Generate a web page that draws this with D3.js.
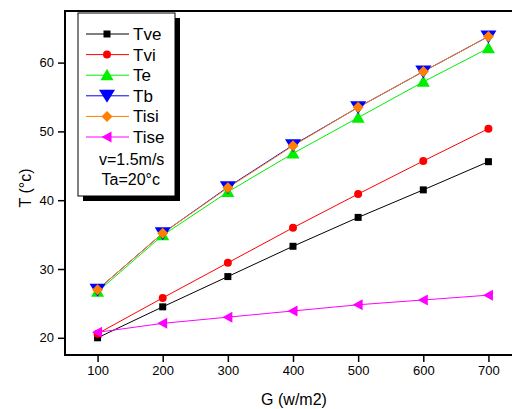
<!DOCTYPE html>
<html>
<head>
<meta charset="utf-8">
<script src="https://cdn.jsdelivr.net/npm/d3@7"></script>
<style>
  html, body { margin: 0; padding: 0; background: #fff; }
  svg { display: block; font-family: "Liberation Sans", Arial, sans-serif; }
</style>
</head>
<body>
<svg id="chart" width="512" height="409"></svg>
<script>
// Irradiance levels (x) and temperatures of each layer (°C)
const G = [100, 200, 300, 400, 500, 600, 700];
const Tve  = [20.0, 24.5, 28.9, 33.3, 37.5, 41.5, 45.6];
const Tvi  = [20.6, 25.8, 30.9, 36.0, 40.9, 45.7, 50.4];
const Te   = [26.7, 34.9, 41.2, 46.8, 52.0, 57.2, 62.1];
const Tb   = [27.0, 35.2, 41.9, 48.0, 53.5, 58.7, 63.8];
const Tisi = [27.0, 35.2, 41.8, 47.9, 53.5, 58.7, 63.8];
const Tise = [20.8, 22.1, 23.0, 23.9, 24.8, 25.5, 26.2];
const xTicks = [100, 200, 300, 400, 500, 600, 700];
const yTicks = [20, 30, 40, 50, 60];
const notes = ["v=1.5m/s", "Ta=20°c"];

const series = [
  { name: "Tve",  values: Tve,  color: "#000000", symbol: "square" },
  { name: "Tvi",  values: Tvi,  color: "#ff0000", symbol: "circle" },
  { name: "Te",   values: Te,   color: "#00ee00", symbol: "triUp" },
  { name: "Tb",   values: Tb,   color: "#0000ff", symbol: "triDown" },
  { name: "Tisi", values: Tisi, color: "#ff8000", symbol: "diamond" },
  { name: "Tise", values: Tise, color: "#ff00ff", symbol: "triLeft" }
];

const svg = d3.select("#chart");
const mLeft = 65, mRight = 521, mTop = 11, mBottom = 355;

const x = d3.scaleLinear().domain([50, 750]).range([mLeft, mRight]);
const y = d3.scaleLinear().domain([17.5, 67.5]).range([mBottom, mTop]);

// marker shapes, centred on 0,0
function markerPath(sym) {
  switch (sym) {
    case "square":  return "M-3.5,-3.5H3.5V3.5H-3.5Z";
    case "circle":  return d3.symbol(d3.symbolCircle, 50)();
    case "triUp":   return "M0,-6.5L6.5,5L-6.5,5Z";
    case "triDown": return "M0,7L-8,-6L8,-6Z";
    case "diamond": return "M0,-5.5L5.5,0L0,5.5L-5.5,0Z";
    case "triLeft": return "M-5.5,0L4.5,-5.5L4.5,5.5Z";
  }
}

// axes
const xAxis = d3.axisBottom(x).tickValues(xTicks).tickSize(7).tickPadding(4);
const yAxis = d3.axisLeft(y).tickValues(yTicks).tickSize(7).tickPadding(4);

const gx = svg.append("g").attr("transform", `translate(0,${mBottom})`).call(xAxis);
const gy = svg.append("g").attr("transform", `translate(${mLeft},0)`).call(yAxis);
[gx, gy].forEach(g => {
  g.select(".domain").remove();
  g.selectAll(".tick line").attr("stroke", "#000").attr("stroke-width", 1.5);
  g.selectAll(".tick text").attr("fill", "#000").style("font-size", "13px")
    .style("font-family", "Liberation Sans, Arial, sans-serif");
});

// frame
svg.append("path")
  .attr("d", `M${mRight},${mTop}H${mLeft}V${mBottom}H${mRight}`)
  .attr("fill", "none").attr("stroke", "#000").attr("stroke-width", 2);

// axis titles
svg.append("text").attr("x", 294).attr("y", 405)
  .attr("text-anchor", "middle").style("font-size", "16px").text("G (w/m2)");
svg.append("text")
  .attr("transform", `translate(31,${188}) rotate(-90)`)
  .attr("text-anchor", "middle").style("font-size", "16px").text("T (°c)");

// series lines
const line = d3.line().x((d, i) => x(G[i])).y(d => y(d));
const plot = svg.append("g");
series.forEach(s => {
  plot.append("path").datum(s.values).attr("d", line)
    .attr("fill", "none").attr("stroke", s.color).attr("stroke-width", 1);
});
// series markers
series.forEach(s => {
  plot.append("g").selectAll("path").data(s.values).join("path")
    .attr("transform", (d, i) => `translate(${x(G[i])},${y(d)})`)
    .attr("d", markerPath(s.symbol)).attr("fill", s.color);
});

// legend with drop shadow
const lg = svg.append("g");
const bx = 78, by = 13, bw = 97, bh = 183;
lg.append("rect").attr("x", bx + 5).attr("y", by + 5).attr("width", bw).attr("height", bh).attr("fill", "#000");
lg.append("rect").attr("x", bx).attr("y", by).attr("width", bw).attr("height", bh)
  .attr("fill", "#fff").attr("stroke", "#000").attr("stroke-width", 1);
series.forEach((s, i) => {
  const ry = 34 + i * 20.6;
  lg.append("line").attr("x1", 86).attr("x2", 129).attr("y1", ry).attr("y2", ry)
    .attr("stroke", s.color).attr("stroke-width", 1);
  lg.append("path").attr("transform", `translate(107,${ry})`)
    .attr("d", markerPath(s.symbol)).attr("fill", s.color);
  lg.append("text").attr("x", 133).attr("y", ry + 6).style("font-size", "17px").text(s.name);
});
notes.forEach((t, i) => {
  lg.append("text").attr("x", 99 + i * 2.5).attr("y", 164.5 + i * 20.5).style("font-size", "16px").text(t);
});
</script>
</body>
</html>
